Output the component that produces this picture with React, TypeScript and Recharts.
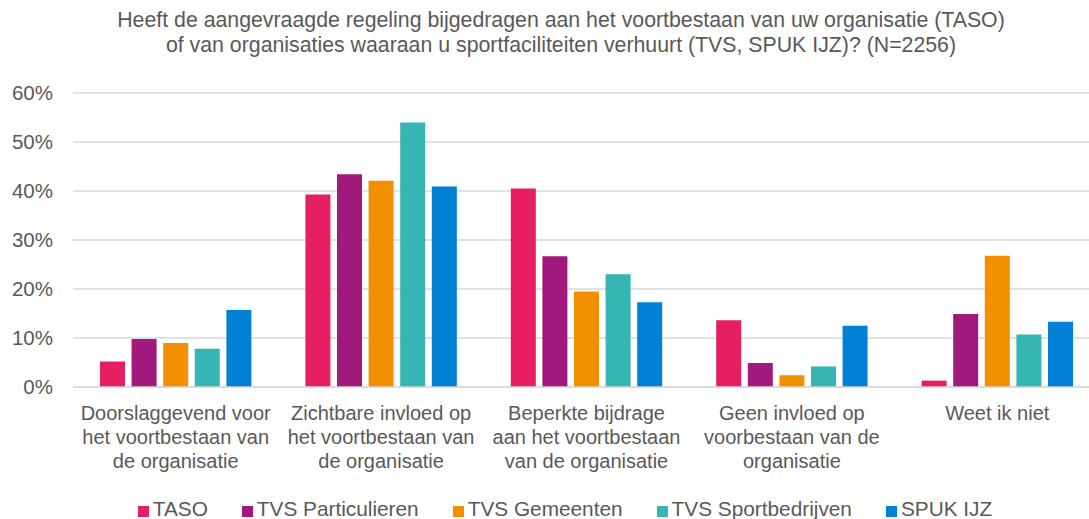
import React from 'react'
import { Bar, BarChart, CartesianGrid, XAxis, YAxis } from 'recharts'

const FONT = '"Liberation Sans", Arial, sans-serif'
const TEXT = '#595959'

const TITLE_LINES = [
  'Heeft de aangevraagde regeling bijgedragen aan het voortbestaan van uw organisatie (TASO)',
  'of van organisaties waaraan u sportfaciliteiten verhuurt (TVS, SPUK IJZ)? (N=2256)',
]

// category labels, already wrapped the way the reference wraps them
const categoryLines = [
  ['Doorslaggevend voor', 'het voortbestaan van', 'de organisatie'],
  ['Zichtbare invloed op', 'het voortbestaan van', 'de organisatie'],
  ['Beperkte bijdrage', 'aan het voortbestaan', 'van de organisatie'],
  ['Geen invloed op', 'voorbestaan van de', 'organisatie'],
  ['Weet ik niet'],
]
const categories = categoryLines.map((l) => l.join(' '))

const seriesNames = ['TASO', 'TVS Particulieren', 'TVS Gemeenten', 'TVS Sportbedrijven', 'SPUK IJZ']
const seriesColors = ['#E61F63', '#A1197D', '#F39000', '#35B5B3', '#0081D5']

// percentages per category
const taso = [5.2, 39.3, 40.5, 13.6, 1.3]
const tvsParticulieren = [9.8, 43.4, 26.7, 4.9, 14.9]
const tvsGemeenten = [9.0, 42.1, 19.5, 2.4, 26.8]
const tvsSportbedrijven = [7.8, 54.0, 23.0, 4.2, 10.7]
const spukIjz = [15.7, 40.9, 17.3, 12.5, 13.3]

const yTicks = [0, 10, 20, 30, 40, 50, 60]

const seriesValues = [taso, tvsParticulieren, tvsGemeenten, tvsSportbedrijven, spukIjz]
const data = categories.map((name, i) => {
  const row: Record<string, string | number> = { name }
  seriesNames.forEach((s, j) => {
    row[s] = seriesValues[j][i]
  })
  return row
})

function CategoryTick(props: any) {
  const { x, y, index } = props
  const lines = categoryLines[index] ?? []
  return (
    <text x={x} y={y} textAnchor="middle" fill={TEXT} fontSize={20} fontFamily={FONT}>
      {lines.map((line, i) => (
        <tspan key={i} x={x} dy={i === 0 ? 33 : 24}>
          {line}
        </tspan>
      ))}
    </text>
  )
}

export default function App() {
  return (
    <div
      style={{
        position: 'absolute',
        left: 0,
        top: 0,
        width: 1089,
        height: 519,
        overflow: 'hidden',
        background: '#fff',
        fontFamily: FONT,
      }}
    >
      <div
        style={{
          position: 'absolute',
          top: 8,
          left: 0,
          width: 1122,
          textAlign: 'center',
          fontSize: 21.3,
          lineHeight: '25px',
          color: TEXT,
          whiteSpace: 'nowrap',
        }}
      >
        {TITLE_LINES.map((t) => (
          <div key={t}>{t}</div>
        ))}
      </div>

      <div style={{ position: 'absolute', left: 0, top: 0 }}>
        <BarChart
          width={1100}
          height={519}
          data={data}
          margin={{ top: 93, right: 0, bottom: 32, left: 0 }}
          barSize={25}
          barGap={6.6}
        >
          <CartesianGrid vertical={false} stroke="#D9D9D9" strokeWidth={1.3} />
          <XAxis
            dataKey="name"
            height={100}
            interval={0}
            tickLine={false}
            tickSize={0}
            tickMargin={0}
            axisLine={{ stroke: '#D9D9D9', strokeWidth: 1.3 }}
            tick={<CategoryTick />}
          />
          <YAxis
            width={73}
            domain={[0, 60]}
            ticks={yTicks}
            interval={0}
            axisLine={false}
            tickLine={false}
            tickSize={0}
            tickMargin={20}
            tickFormatter={(v: number) => `${v}%`}
            tick={{ fill: TEXT, fontSize: 20.5, fontFamily: FONT }}
          />
          {seriesNames.map((s, i) => (
            <Bar key={s} dataKey={s} fill={seriesColors[i]} isAnimationActive={false} />
          ))}
        </BarChart>
      </div>

      <div
        style={{
          position: 'absolute',
          top: 497,
          left: 4,
          width: 1122,
          display: 'flex',
          justifyContent: 'center',
          fontSize: 20.8,
          lineHeight: '24px',
          color: TEXT,
          whiteSpace: 'nowrap',
        }}
      >
        {seriesNames.map((s, i) => (
          <div key={s} style={{ display: 'flex', alignItems: 'center', marginRight: i < seriesNames.length - 1 ? 34 : 0 }}>
            <span
              style={{
                display: 'inline-block',
                width: 11,
                height: 11,
                background: seriesColors[i],
                marginRight: 4,
                marginTop: 4,
              }}
            />
            <span>{s}</span>
          </div>
        ))}
      </div>
    </div>
  )
}
